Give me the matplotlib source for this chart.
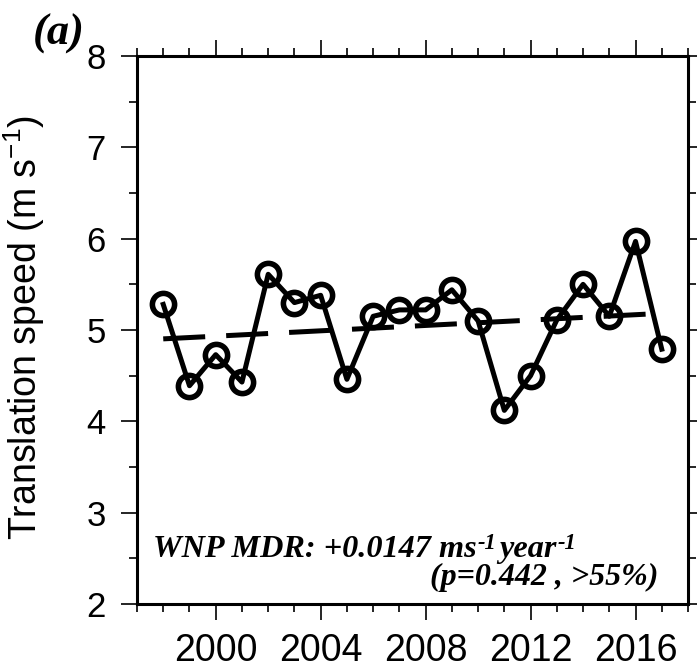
import numpy as np
import matplotlib
matplotlib.use("Agg")
import matplotlib.pyplot as plt
from matplotlib.ticker import MultipleLocator, FixedLocator
from matplotlib.transforms import offset_copy

plt.rcParams['font.family'] = ['Liberation Sans', 'DejaVu Sans']
plt.rcParams['mathtext.fontset'] = 'custom'
plt.rcParams['mathtext.rm'] = 'Liberation Sans'

# ---- data ----
years = [1998, 1999, 2000, 2001, 2002, 2003, 2004, 2005, 2006, 2007,
         2008, 2009, 2010, 2011, 2012, 2013, 2014, 2015, 2016, 2017]
speed = [5.28, 4.39, 4.73, 4.43, 5.61, 5.30, 5.38, 4.46, 5.15, 5.22,
         5.22, 5.44, 5.10, 4.12, 4.50, 5.11, 5.50, 5.15, 5.97, 4.79]
trend_slope = 0.0147  # m s^-1 per year
xtick_labels = ['2000', '2004', '2008', '2012', '2016']
xtick_years = [2000, 2004, 2008, 2012, 2016]
yticks = [2, 3, 4, 5, 6, 7, 8]

yrs = np.array(years, dtype=float)
spd = np.array(speed)
trend = spd.mean() + trend_slope * (yrs - yrs.mean())

fig = plt.figure(figsize=(6.97, 6.70), dpi=100)
ax = fig.add_axes([137/697, 66/670, (688-137)/697, (604-56)/670])

ax.plot(yrs, trend, color='black', lw=3.6, ls=(0, (8.4, 4.2)), dash_capstyle='butt')
ax.plot(yrs, spd, color='black', lw=3.6, marker='o', ms=16, mfc='none',
        mec='black', mew=4.0)

ax.set_xlim(1997, 2018)
ax.set_ylim(2, 8)
ax.xaxis.set_major_locator(FixedLocator(xtick_years))
ax.set_xticklabels(xtick_labels)
ax.xaxis.set_minor_locator(MultipleLocator(1))
ax.yaxis.set_major_locator(FixedLocator(yticks))
ax.yaxis.set_minor_locator(MultipleLocator(0.5))

for s in ax.spines.values():
    s.set_linewidth(2.2)
ax.tick_params(which='both', direction='out', top=True, right=True, width=1.2)
ax.tick_params(which='major', length=11.5)
ax.tick_params(which='minor', length=5.8)
ax.tick_params(axis='x', which='major', labelsize=27, pad=9.5)
ax.tick_params(axis='y', which='major', labelsize=25, pad=11)

ax.set_ylabel('Translation speed (m s$^{-1}$)', fontsize=27)
ax.yaxis.set_label_coords(-0.163, 0.505)

# annotation built from pieces (bold italic serif with superscripts)
fig.canvas.draw()
renderer = fig.canvas.get_renderer()
serif = dict(family='Liberation Serif', style='italic', weight='bold')


def pieces_text(x0, y0, pieces, fs):
    off = 0.0
    for txt, sup in pieces:
        size = fs * 0.7 if sup else fs
        rise = fs * 0.24 if sup else 0.0
        tr = offset_copy(ax.transAxes, fig=fig, x=off, y=rise, units='points')
        t = ax.text(x0, y0, txt, transform=tr, fontsize=size, ha='left',
                    va='baseline', **serif)
        bb = t.get_window_extent(renderer)
        off += bb.width * 72.0 / fig.dpi + (1.6 if sup else 1.0)


pieces_text((153-137)/551, (604-557)/548,
            [('WNP MDR: +0.0147 ms', False), ('-1', True), ('year', False),
             ('-1', True)], 23.2)
ax.text((658-137)/551, (604-585)/548, '(p=0.442 , >55%)', transform=ax.transAxes,
        fontsize=23, ha='right', va='baseline', **serif)

fig.text(33/697, 1 - 45/670, '(a)', fontsize=32, ha='left', va='baseline',
         **serif)

fig.savefig('out.png', dpi=100)
